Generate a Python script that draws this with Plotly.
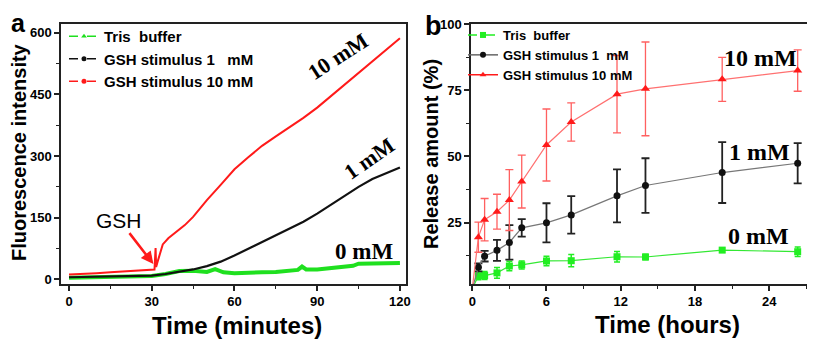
import plotly.graph_objects as go

# The page body has an 8px margin, so the figure is drawn 8px smaller and
# all reference pixel positions are shifted by that offset.
OFF = 8
W, H = 815 - OFF, 339 - OFF

# ---------------- Panel a data (minutes) ----------------
t_tris = [0, 10, 20, 30, 35, 40, 45, 48, 50, 53, 56, 60, 65, 70, 75, 80, 83, 84.5, 86, 90, 95, 100, 103, 105, 110, 115, 120]
f_tris = [4, 5, 6, 8, 13, 20, 21, 19, 18, 25, 17, 15, 15, 17, 18, 21, 23, 31, 24, 24, 27, 30, 33, 38, 38, 39, 40]

t_gsh1 = [0, 10, 20, 30, 35, 40, 45, 50, 55, 60, 65, 70, 75, 80, 85, 90, 95, 100, 105, 110, 115, 120]
f_gsh1 = [5, 6, 7, 9, 13, 18, 24, 32, 43, 58, 74, 90, 106, 122, 140, 160, 182, 204, 225, 244, 259, 272]

t_gsh10 = [0, 5, 10, 15, 20, 25, 30, 31, 31.4, 31.6, 32, 33, 34, 36, 39, 42, 45, 50, 55, 60, 65, 70, 75, 80, 85, 90, 95, 100, 105, 110, 115, 120]
f_gsh10 = [12, 13, 15, 17, 19, 21, 23, 24, 76, 30, 40, 65, 85, 100, 116, 132, 152, 193, 230, 268, 297, 325, 348, 370, 393, 418, 446, 474, 503, 532, 560, 587]

# ---------------- Panel b data (hours) ----------------
hours = [0, 0.5, 1, 2, 3, 4, 6, 8, 11.7, 14, 20.2, 26.3]
rel_tris = [0, 4.9, 5.0, 6.0, 8.6, 9.0, 10.5, 10.6, 12.1, 12.0, 14.6, 14.0]
err_tris = [0, 1.5, 1.5, 2.0, 1.8, 1.5, 1.8, 2.3, 2.0, 1.0, 0.8, 1.8]
rel_gsh1 = [0, 8.1, 12.3, 14.5, 17.5, 23.0, 24.9, 27.9, 35.1, 39.0, 43.9, 47.4]
err_gsh1 = [0, 1.5, 2.0, 4.0, 6.5, 3.3, 7.4, 7.1, 10.0, 10.3, 11.5, 7.6]
rel_gsh10 = [0, 19.5, 26.1, 29.1, 33.5, 40.5, 54.3, 63.0, 73.5, 75.5, 79.1, 82.4]
err_gsh10 = [0, 5.7, 8.0, 6.6, 11.5, 10.0, 13.6, 7.2, 14.6, 17.7, 8.3, 7.8]

names = ["Tris  buffer", "GSH stimulus 1   mM", "GSH stimulus 10 mM"]
names_b = ["Tris  buffer", "GSH stimulus 1  mM", "GSH stimulus 10 mM"]

GREEN = "#1fe01f"
BLACK = "#111111"
RED = "#ff1a1a"

SANS = "Liberation Sans, Arial"
SERIF = "Liberation Serif, Times New Roman"


def px(x):
    return (x - OFF) / W


def py(y):
    return 1 - (y - OFF) / H


fig = go.Figure()

fig.add_trace(go.Scatter(x=t_tris, y=f_tris, mode="lines", line=dict(color=GREEN, width=4),
                         xaxis="x", yaxis="y", showlegend=False))
fig.add_trace(go.Scatter(x=t_gsh1, y=f_gsh1, mode="lines", line=dict(color=BLACK, width=2.2),
                         xaxis="x", yaxis="y", showlegend=False))
fig.add_trace(go.Scatter(x=t_gsh10, y=f_gsh10, mode="lines", line=dict(color=RED, width=2),
                         xaxis="x", yaxis="y", showlegend=False))

for nm, col, sym in zip(names, [GREEN, BLACK, RED], ["triangle-up", "circle", "circle"]):
    fig.add_trace(go.Scatter(x=[None], y=[None], mode="lines+markers", name=nm,
                             line=dict(color=col, width=1.5, dash="dash"),
                             marker=dict(color=col, size=5, symbol=sym),
                             xaxis="x", yaxis="y", legend="legend"))

fig.add_trace(go.Scatter(x=hours, y=rel_tris, mode="lines+markers",
                         line=dict(color="#33e833", width=1.2),
                         marker=dict(color="#22ee22", size=7, symbol="square"),
                         error_y=dict(type="data", array=err_tris, color="#22ee22", thickness=1.5, width=3),
                         xaxis="x2", yaxis="y2", showlegend=False))
fig.add_trace(go.Scatter(x=hours, y=rel_gsh1, mode="lines+markers",
                         line=dict(color="#777777", width=1.2),
                         marker=dict(color=BLACK, size=7, symbol="circle"),
                         error_y=dict(type="data", array=err_gsh1, color="#222222", thickness=1.8, width=4),
                         xaxis="x2", yaxis="y2", showlegend=False))
fig.add_trace(go.Scatter(x=hours, y=rel_gsh10, mode="lines+markers",
                         line=dict(color="#ff7070", width=1.2),
                         marker=dict(color=RED, size=8, symbol="triangle-up"),
                         error_y=dict(type="data", array=err_gsh10, color="#ff6060", thickness=1.3, width=4),
                         xaxis="x2", yaxis="y2", showlegend=False))

for nm, col, sym, dash in zip(names_b, ["#22ee22", BLACK, RED], ["square", "circle", "triangle-up"],
                              ["dash", "solid", "solid"]):
    fig.add_trace(go.Scatter(x=[None], y=[None], mode="lines+markers", name=nm,
                             line=dict(color=col if col != BLACK else "#666666", width=1.5, dash=dash),
                             marker=dict(color=col, size=6, symbol=sym),
                             xaxis="x2", yaxis="y2", legend="legend2"))

axis_common = dict(showline=True, linecolor="#222222", linewidth=1.5, mirror=True, automargin=False,
                   ticks="outside", ticklen=5, tickwidth=1.5, tickcolor="#222222",
                   showgrid=False, zeroline=False,
                   tickfont=dict(family=SANS, size=13, color="black", weight="bold"))
minor_common = dict(ticks="outside", ticklen=3, tickwidth=1.2, tickcolor="#222222", tick0=0)

fig.update_layout(
    template="none",
    width=W, height=H, autosize=False,
    margin=dict(l=0, r=0, t=0, b=0, pad=0, autoexpand=False),
    paper_bgcolor="white", plot_bgcolor="white",
    xaxis=dict(domain=[px(61), px(406)], range=[-2.9, 122.2], tickvals=[0, 30, 60, 90, 120],
               minor=dict(dtick=15, **minor_common), anchor="y", **axis_common),
    yaxis=dict(domain=[py(284), py(24)], range=[-11.4, 621.6], tickvals=[0, 150, 300, 450, 600],
               minor=dict(dtick=75, **minor_common), anchor="x", **axis_common),
    xaxis2=dict(domain=[px(471), 1.0], range=[-0.1, 27.7], tickvals=[0, 6, 12, 18, 24],
                minor=dict(dtick=3, **minor_common), anchor="y2", **axis_common),
    yaxis2=dict(domain=[py(284), py(24)], range=[1.8, 100], tickvals=[25, 50, 75, 100],
                minor=dict(dtick=12.5, **minor_common), anchor="x2", **axis_common),
    legend=dict(x=px(64), y=py(20), xanchor="left", yanchor="top", bgcolor="rgba(0,0,0,0)",
                font=dict(family=SANS, size=15, color="black", weight="bold"),
                itemwidth=30, tracegroupgap=0),
    legend2=dict(x=px(463), y=py(20), xanchor="left", yanchor="top", bgcolor="rgba(0,0,0,0)",
                 font=dict(family=SANS, size=13, color="black", weight="bold"),
                 itemwidth=30, tracegroupgap=0),
)

ann = []
ann.append(dict(x=px(18), y=py(23), text="a", font=dict(family=SANS, size=25, color="black", weight="bold")))
ann.append(dict(x=px(433), y=py(26), text="b", font=dict(family=SANS, size=27, color="black", weight="bold")))
ann.append(dict(x=px(19), y=py(152), text="Fluorescence intensity", textangle=-90,
                font=dict(family=SANS, size=20, color="black", weight="bold")))
ann.append(dict(x=px(237), y=py(325), text="Time (minutes)",
                font=dict(family=SANS, size=24, color="black", weight="bold")))
ann.append(dict(x=px(431), y=py(154), text="Release amount (%)", textangle=-90,
                font=dict(family=SANS, size=20, color="black", weight="bold")))
ann.append(dict(x=px(667), y=py(324), text="Time (hours)",
                font=dict(family=SANS, size=24, color="black", weight="bold")))
ann.append(dict(x=px(338), y=py(57), text="10 mM", textangle=-33,
                font=dict(family=SERIF, size=22, color="black", weight="bold")))
ann.append(dict(x=px(369), y=py(158), text="1 mM", textangle=-35,
                font=dict(family=SERIF, size=22, color="black", weight="bold")))
ann.append(dict(x=px(364), y=py(251), text="0 mM",
                font=dict(family=SERIF, size=23, color="black", weight="bold")))
ann.append(dict(x=px(760), y=py(58), text="10 mM",
                font=dict(family=SERIF, size=24, color="black", weight="bold")))
ann.append(dict(x=px(759), y=py(152), text="1 mM",
                font=dict(family=SERIF, size=24, color="black", weight="bold")))
ann.append(dict(x=px(758), y=py(236), text="0 mM",
                font=dict(family=SERIF, size=24, color="black", weight="bold")))
for a in ann:
    a.update(xref="paper", yref="paper", xanchor="center", yanchor="middle", showarrow=False)

ann.append(dict(x=30.6, y=37, xref="x", yref="y", text="GSH", showarrow=True,
                ax=-34, ay=-44, arrowcolor=RED, arrowwidth=2.5, arrowhead=2, arrowsize=1,
                font=dict(family=SANS, size=21, color="black")))

fig.update_layout(annotations=ann)

fig.write_html("out.html")
